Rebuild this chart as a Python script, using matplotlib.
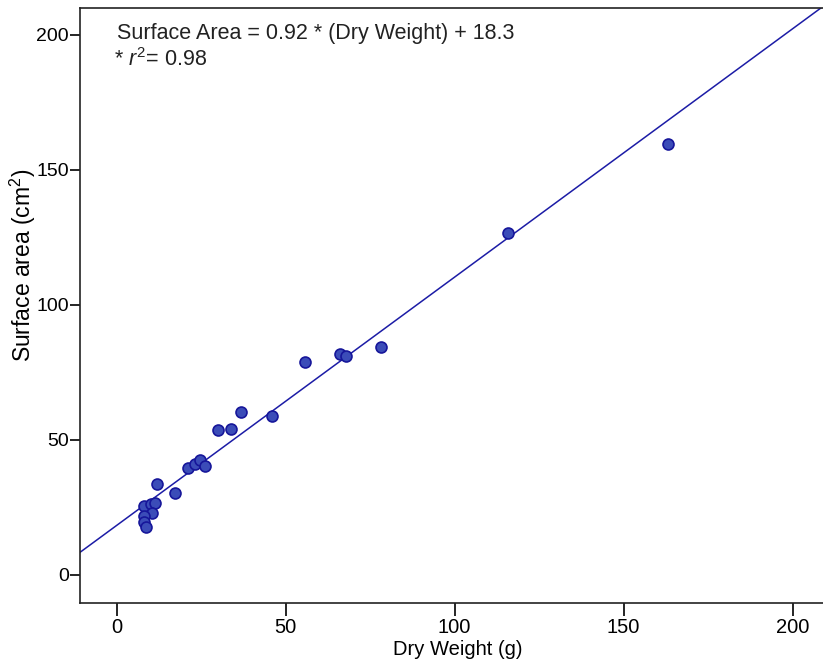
import matplotlib
matplotlib.use("Agg")
import matplotlib.pyplot as plt
import numpy as np

plt.rcParams['font.family'] = ['Liberation Sans', 'DejaVu Sans']
plt.rcParams['mathtext.fontset'] = 'custom'
plt.rcParams['mathtext.rm'] = 'Liberation Sans'
plt.rcParams['mathtext.it'] = 'Liberation Sans:italic'

# dry weight (g) vs surface area (cm2)
dry_weight = [8.0, 10.2, 11.4, 10.6, 8.2, 8.2, 8.7, 12.0, 17.4, 21.2, 23.1,
              24.7, 26.3, 30.0, 34.0, 36.9, 45.9, 55.8, 66.1, 67.8, 78.2,
              115.8, 163.1]
surface_area = [25.6, 26.3, 26.8, 22.9, 21.9, 19.6, 17.7, 33.6, 30.3, 39.5,
                41.2, 42.6, 40.4, 53.6, 54.2, 60.5, 58.9, 78.9, 82.0, 81.2,
                84.3, 126.7, 159.6]
slope = 0.92
intercept = 18.3
xticks = [0, 50, 100, 150, 200]
yticks = [0, 50, 100, 150, 200]

fig = plt.figure(figsize=(8.23, 6.66), dpi=100)
ax = fig.add_axes([80 / 823, 1 - 603 / 666, 1 - 80 / 823, (603 - 8) / 666])

xmin, xmax = -10.8, 209
ax.set_xlim(xmin, xmax)
ax.set_ylim(-10.4, 210)

xl = np.array([xmin, xmax])
ax.plot(xl, slope * xl + intercept, color='#1c1ca6', lw=1.1, zorder=2)
ax.scatter(dry_weight, surface_area, s=62, color='#3b4cb8',
           edgecolors='#16169a', linewidths=1.2, zorder=3)

ax.set_xticks(xticks)
ax.set_yticks(yticks)
ax.tick_params(axis='both', direction='out', width=1.2, color='black')
ax.tick_params(axis='x', length=9, pad=2, labelsize=14.5)
ax.tick_params(axis='y', length=7, pad=1, labelsize=14)
for s in ['left', 'bottom', 'top']:
    ax.spines[s].set_linewidth(1.2)
    ax.spines[s].set_color('#222222')
ax.spines['right'].set_visible(False)

ax.set_xlabel('Dry Weight (g)', fontsize=14.5)
ax.xaxis.set_label_coords(0.509, -0.062)
ax.set_ylabel('Surface area (cm$^2$)', fontsize=16.5)
ax.yaxis.set_label_coords(-0.056, 0.568)

ax.text(0.0, 200.5, 'Surface Area = 0.92 * (Dry Weight) + 18.3',
        fontsize=15.5, color='#222222', va='center', ha='left')
ax.text(-0.6, 191.0, '* $r^2$= 0.98',
        fontsize=15.5, color='#222222', va='center', ha='left')

fig.savefig('out.png', dpi=100)
